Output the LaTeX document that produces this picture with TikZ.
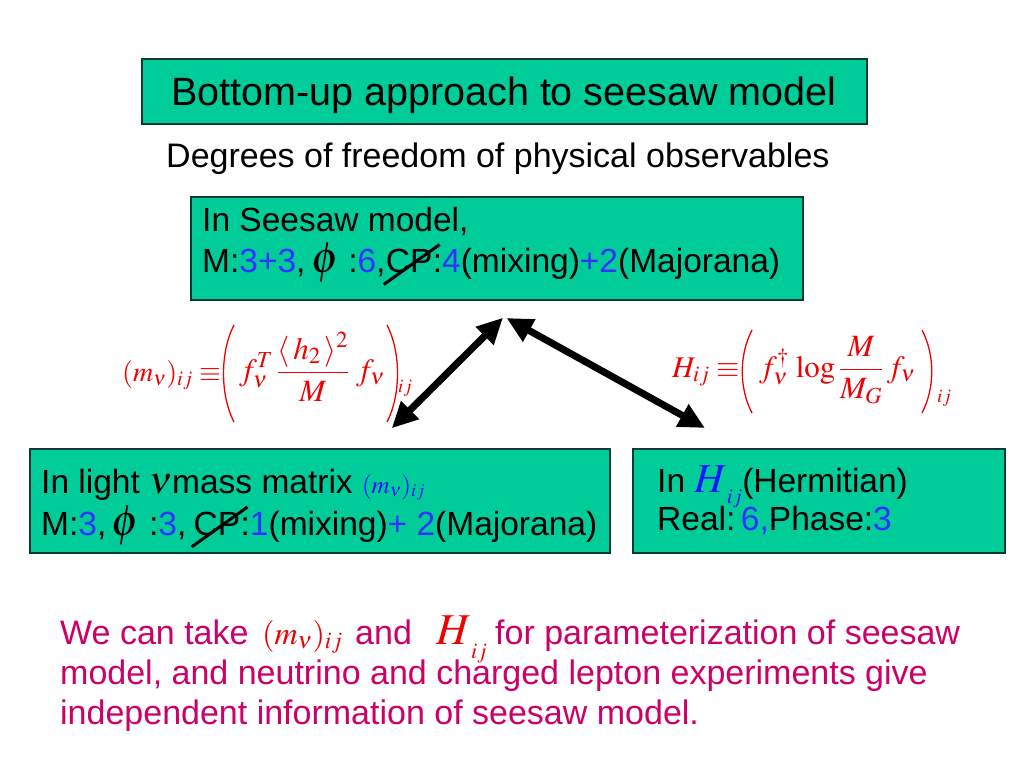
\documentclass[tikz,border=0pt]{standalone}
\usepackage{mathptmx}
\usepackage[no-math]{fontspec}
\setmainfont{Liberation Sans}
\usetikzlibrary{arrows.meta,calc}
\definecolor{boxfill}{RGB}{0,204,153}
\definecolor{boxline}{RGB}{0,60,50}
\definecolor{numblue}{RGB}{51,51,255}
\definecolor{mathblue}{RGB}{20,20,255}
\definecolor{eqred}{RGB}{240,0,0}
\definecolor{notered}{RGB}{204,0,102}
\newcommand\fsz[1]{\fontsize{#1}{#1}\selectfont}
\newcommand\nb[1]{\textcolor{numblue}{#1}}
\tikzset{
  box/.style={draw=boxline, line width=1.5pt, fill=boxfill, inner sep=0pt, anchor=north west},
  txt/.style={inner sep=0pt, anchor=base west, font=\fsz{33.5}},
  eq/.style={inner sep=0pt, anchor=base west, text=eqred, font=\fsz{28}},
  paren/.style={draw=eqred, line width=1.3pt},
  strike/.style={draw=black, line width=3pt},
  dblarrow/.style={line width=7pt, {Triangle[length=26pt,width=24pt]}-{Triangle[length=26pt,width=24pt]}}
}
\begin{document}
\begin{tikzpicture}[x=1pt,y=-1pt]
\useasboundingbox[fill=white] (0,0) rectangle (1024,768);

% boxes
\node[box, minimum width=725pt, minimum height=65pt] (titlebox) at (141,58) {};
\node[box, minimum width=612pt, minimum height=103pt] (seesaw) at (190,196) {};
\node[box, minimum width=580pt, minimum height=104pt] (light) at (29,448) {};
\node[box, minimum width=372pt, minimum height=104pt] (herm) at (632,448) {};

% title and subtitle
\node[txt, font=\fsz{39.5}] (title) at (171,105) {Bottom-up approach to seesaw model};
\node[txt, font=\fsz{34}] (subtitle) at (166,167) {Degrees of freedom of physical observables};

% seesaw box text
\node[txt] (s1) at (202,231.5) {In Seesaw model,};
\node[txt] (s2a) at (202,272.5) {M:\nb{3+3},\,{\fsz{44}$\phi$}\ :\nb{6},};
\node[txt] (s2cp) at (s2a.base east) {CP};
\node[txt] (s2b) at (s2cp.base east) {:\nb{4}(mixing)\nb{+2}(Majorana)};
\draw[strike] ($(s2cp.base west)+(-2,12)$) -- ($(s2cp.base east)+(7,-28)$);

% light nu box text
\node[txt] (l1) at (41,493) {In light {\fsz{38}$\nu$}mass matrix {\color{mathblue}\fsz{25}$(m_\nu)_{ij}$}};
\node[txt] (l2a) at (41,535) {M:\nb{3},\,{\fsz{44}$\phi$}\ :\nb{3},\kern7pt};
\node[txt] (l2cp) at (l2a.base east) {CP};
\node[txt] (l2b) at (l2cp.base east) {:\nb{1}(mixing)\nb{+\ 2}(Majorana)};
\draw[strike] ($(l2cp.base west)+(-2,12)$) -- ($(l2cp.base east)+(7,-28)$);

% Hermitian box text
\node[txt] (h1) at (657,492) {In {\color{mathblue}\fsz{41}$H$\raisebox{-11pt}{\fsz{21}$ij$}}(Hermitian)};
\node[txt] (h2) at (657,530) {Real:\,\nb{6,}Phase:\nb{3}};

% left equation
\node[eq] (mnu) at (122,381) {$(m_\nu)_{ij}\equiv$};
\node[eq, font=\fsz{31}] (mnuin) at (239,380) {$\displaystyle f_\nu^T\,\frac{\langle\, h_2\,\rangle^2}{M}\;f_\nu$};
\draw[paren] (234,325) .. controls (220,352) and (220,395) .. (234,422);
\draw[paren] (387,325) .. controls (401,352) and (401,395) .. (387,422);
\node[eq, font=\fsz{19}] (mnuij) at (398,392) {$ij$};

% right equation
\node[eq, font=\fsz{30}] (hij) at (672,377) {$H_{ij}\equiv$};
\node[eq, font=\fsz{31}] (hijin) at (759,377) {$\displaystyle f_\nu^\dagger\,\log\frac{M}{M_G}\,f_\nu$};
\draw[paren] (752,330) .. controls (739,355) and (739,388) .. (752,413);
\draw[paren] (922,330) .. controls (935,355) and (935,388) .. (922,413);
\node[eq, font=\fsz{19}] (hijij) at (937,402) {$ij$};

% arrows
\coordinate (aLlow) at (391.7,428.3);
\coordinate (aLtop) at (503,317.7);
\coordinate (aRtop) at (506.5,318);
\coordinate (aRlow) at (705,428);
\draw[dblarrow] (aLlow) -- (aLtop);
\draw[dblarrow] (aRtop) -- (aRlow);

% bottom note
\node[txt, font=\fsz{34}, text=notered] (n1a) at (60,644) {We can take};
\node[txt, font=\fsz{32}, text=eqred] (n1m) at (262,644) {$(m_\nu)_{ij}$};
\node[txt, font=\fsz{34}, text=notered] (n1b) at (355,644) {and};
\node[txt, font=\fsz{44}, text=eqred] (n1h) at (436,644) {$H$\raisebox{-14pt}{\fsz{22}$ij$}};
\node[txt, font=\fsz{34}, text=notered] (n1c) at (495,644) {for parameterization of seesaw};
\node[txt, font=\fsz{34}, text=notered] (n2) at (60,684) {model, and neutrino and charged lepton experiments give};
\node[txt, font=\fsz{34}, text=notered] (n3) at (60,724) {independent information of seesaw model.};
\end{tikzpicture}
\end{document}
